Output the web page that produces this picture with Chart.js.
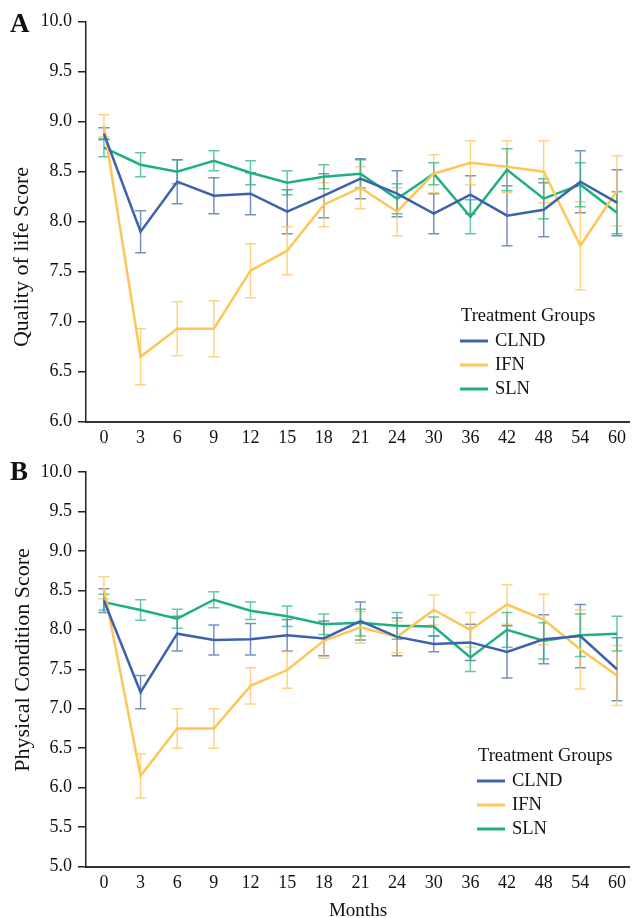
<!DOCTYPE html>
<html>
<head>
<meta charset="utf-8">
<script src="https://cdn.jsdelivr.net/npm/chart.js@4.4.1/dist/chart.umd.min.js"></script>
<style>
  html, body { margin: 0; padding: 0; background: #fff; }
  canvas { position: absolute; left: 0; }
  #chartA { top: 0; }
  #chartB { top: 455px; }
</style>
</head>
<body>
<canvas id="chartA" width="632" height="455"></canvas>
<canvas id="chartB" width="632" height="463"></canvas>
<script>
const months = ['0', '3', '6', '9', '12', '15', '18', '21', '24', '30', '36', '42', '48', '54', '60'];
const groups = ['CLND', 'IFN', 'SLN'];
const groupColors = ['#3d62ad', '#fdc658', '#20b07f'];
const barColors = ['rgba(61,98,173,0.7)', 'rgba(253,198,88,0.75)', 'rgba(32,176,127,0.7)'];

// A: quality of life
const qolCLND = [8.88, 7.90, 8.40, 8.26, 8.28, 8.10, 8.26, 8.43, 8.28, 8.08, 8.27, 8.06, 8.12, 8.40, 8.19];
const qolCLNDErr = [0.06, 0.21, 0.22, 0.18, 0.21, 0.22, 0.22, 0.20, 0.23, 0.20, 0.19, 0.30, 0.27, 0.31, 0.33];
const qolIFN = [8.96, 6.65, 6.93, 6.93, 7.51, 7.71, 8.17, 8.34, 8.10, 8.48, 8.59, 8.55, 8.50, 7.76, 8.31];
const qolIFNErr = [0.11, 0.28, 0.27, 0.28, 0.27, 0.24, 0.22, 0.21, 0.24, 0.19, 0.22, 0.26, 0.31, 0.44, 0.35];
const qolSLN = [8.74, 8.57, 8.50, 8.61, 8.49, 8.39, 8.45, 8.48, 8.23, 8.48, 8.05, 8.52, 8.23, 8.37, 8.09];
const qolSLNErr = [0.09, 0.12, 0.12, 0.10, 0.12, 0.12, 0.12, 0.14, 0.15, 0.11, 0.17, 0.21, 0.20, 0.22, 0.21];

// B: physical condition
const pcCLND = [8.37, 7.21, 7.95, 7.87, 7.88, 7.93, 7.89, 8.11, 7.91, 7.82, 7.84, 7.72, 7.88, 7.92, 7.50];
const pcCLNDErr = [0.15, 0.21, 0.22, 0.19, 0.20, 0.20, 0.22, 0.24, 0.24, 0.10, 0.23, 0.33, 0.31, 0.40, 0.40];
const pcIFN = [8.53, 6.15, 6.75, 6.75, 7.29, 7.49, 7.86, 8.03, 7.91, 8.25, 8.00, 8.32, 8.13, 7.75, 7.42];
const pcIFNErr = [0.14, 0.28, 0.25, 0.25, 0.23, 0.23, 0.22, 0.20, 0.20, 0.19, 0.22, 0.25, 0.32, 0.50, 0.38];
const pcSLN = [8.35, 8.25, 8.14, 8.38, 8.24, 8.17, 8.07, 8.09, 8.05, 8.04, 7.65, 8.00, 7.86, 7.93, 7.95];
const pcSLNErr = [0.10, 0.13, 0.12, 0.10, 0.11, 0.13, 0.13, 0.17, 0.17, 0.12, 0.18, 0.22, 0.23, 0.27, 0.22];

const serif = '"Liberation Serif", "DejaVu Serif", serif';

const errorBars = {
    id: 'errorBars',
    beforeDatasetsDraw(chart) {
        const ctx = chart.ctx;
        const x = chart.scales.x, y = chart.scales.y;
        chart.data.datasets.forEach((ds, d) => {
            ctx.save();
            ctx.strokeStyle = ds.barColor;
            ctx.lineWidth = 1.5;
            ds.data.forEach((p, i) => {
                const e = ds.errors[i];
                const px = x.getPixelForValue(p.x);
                const top = y.getPixelForValue(p.y + e);
                const bot = y.getPixelForValue(p.y - e);
                ctx.beginPath();
                ctx.moveTo(px, top); ctx.lineTo(px, bot);
                ctx.moveTo(px - 5.5, top); ctx.lineTo(px + 5.5, top);
                ctx.moveTo(px - 5.5, bot); ctx.lineTo(px + 5.5, bot);
                ctx.stroke();
            });
            ctx.restore();
        });
    }
};

const panelDecor = {
    id: 'panelDecor',
    afterDraw(chart, args, opts) {
        const ctx = chart.ctx;
        ctx.save();
        ctx.fillStyle = '#111';
        // panel letter
        ctx.font = 'bold 27px ' + serif;
        ctx.textBaseline = 'alphabetic';
        ctx.textAlign = 'left';
        ctx.fillText(opts.letter, 10, opts.letterY);
        // y axis title
        ctx.save();
        ctx.translate(opts.titleX, opts.titleY);
        ctx.rotate(-Math.PI / 2);
        ctx.font = '22px ' + serif;
        ctx.textAlign = 'center';
        ctx.textBaseline = 'middle';
        ctx.fillText(opts.yTitle, 0, 0);
        ctx.restore();
        // legend
        ctx.font = '18.5px ' + serif;
        ctx.textBaseline = 'middle';
        ctx.fillText('Treatment Groups', opts.legX, opts.legY);
        chart.data.datasets.forEach((ds, i) => {
            const yy = opts.legY + 25 + i * 24;
            ctx.strokeStyle = ds.borderColor;
            ctx.lineWidth = 3;
            ctx.beginPath();
            ctx.moveTo(opts.legX - 1, yy);
            ctx.lineTo(opts.legX + 27, yy);
            ctx.stroke();
            ctx.fillText(ds.label, opts.legX + 34, yy);
        });
        ctx.restore();
    }
};

function makeDatasets(series, errs) {
    return series.map((vals, i) => ({
        label: groups[i],
        data: vals.map((v, k) => ({ x: k, y: v })),
        errors: errs[i],
        barColor: barColors[i],
        borderColor: groupColors[i],
        borderWidth: 2.5,
        pointRadius: 0,
        tension: 0,
        fill: false
    }));
}

function makeChart(id, series, errs, yMin, yMax, cfg) {
    return new Chart(document.getElementById(id), {
        type: 'line',
        data: { datasets: makeDatasets(series, errs) },
        plugins: [errorBars, panelDecor],
        options: {
            responsive: false,
            animation: false,
            devicePixelRatio: 1,
            layout: { padding: { top: cfg.padTop, left: 0, right: 0, bottom: 0 } },
            plugins: {
                legend: { display: false },
                tooltip: { enabled: false },
                panelDecor: cfg.decor
            },
            scales: {
                x: {
                    type: 'linear',
                    min: -0.489,
                    max: 14.354,
                    afterBuildTicks: s => { s.ticks = months.map((m, i) => ({ value: i })); },
                    afterFit: s => { s.height = cfg.xHeight; },
                    grid: { display: false, drawTicks: false },
                    border: { display: true, color: '#333', width: 2 },
                    ticks: {
                        padding: 6,
                        color: '#111',
                        font: { family: serif, size: 18 },
                        callback: v => months[v]
                    },
                    title: {
                        display: cfg.xTitle,
                        text: 'Months',
                        color: '#111',
                        font: { family: serif, size: 19, lineHeight: 0.7 },
                        padding: { top: 0, bottom: 0 }
                    }
                },
                y: {
                    min: yMin,
                    max: yMax,
                    afterFit: s => { s.width = 86; },
                    grid: { drawOnChartArea: false, drawTicks: true, tickLength: 8, color: '#222', lineWidth: 1.5 },
                    border: { display: true, color: '#222', width: 1.5 },
                    ticks: {
                        stepSize: 0.5,
                        padding: 6,
                        color: '#111',
                        font: { family: serif, size: 18 },
                        callback: v => v.toFixed(1)
                    }
                }
            }
        }
    });
}

makeChart('chartA', [qolCLND, qolIFN, qolSLN], [qolCLNDErr, qolIFNErr, qolSLNErr], 6, 10, {
    padTop: 21.7,
    xHeight: 455 - 421.7,
    xTitle: false,
    decor: { letter: 'A', letterY: 32, yTitle: 'Quality of life Score', titleX: 22, titleY: 257, legX: 461, legY: 316 }
});

makeChart('chartB', [pcCLND, pcIFN, pcSLN], [pcCLNDErr, pcIFNErr, pcSLNErr], 5, 10, {
    padTop: 15.7,
    xHeight: 463 - 411.7,
    xTitle: true,
    decor: { letter: 'B', letterY: 25, yTitle: 'Physical Condition Score', titleX: 23, titleY: 205, legX: 478, legY: 301 }
});
</script>
</body>
</html>
